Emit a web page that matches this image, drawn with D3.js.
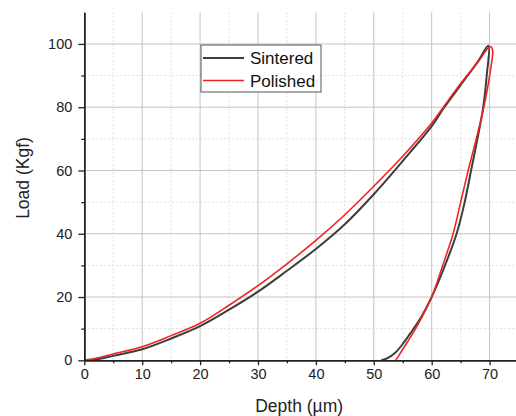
<!DOCTYPE html>
<html>
<head>
<meta charset="utf-8">
<script src="https://cdn.jsdelivr.net/npm/d3@7"></script>
<style>
body { margin:0; background:#fff; }
text { font-family: "Liberation Sans", Arial, sans-serif; }
</style>
</head>
<body>
<svg id="chart"></svg>
<script>
// loading / unloading curves
var sinteredLoadDepth = [0, 2.5, 5, 10, 15, 20, 25, 30, 35, 40, 45, 50, 55, 60, 62, 65, 68, 69.8]
var sinteredLoadForce = [0, 0.4, 1.4, 3.5, 6.9, 10.8, 16, 21.7, 28.3, 35.2, 43, 52.5, 63, 74, 79.5, 87, 94.5, 99.4]
var sinteredUnloadDepth = [69.5, 68.9, 67.9, 66.8, 65.7, 64.3, 62.3, 60.0, 58.3, 56.3, 55.1, 53.7, 52.2, 51.3]
var sinteredUnloadForce = [90, 80, 70, 60, 50, 40, 30, 20, 14, 8.5, 5.4, 2.4, 0.5, 0]

var polishedLoadDepth = [0, 2.5, 5, 10, 15, 20, 25, 30, 35, 40, 45, 50, 55, 60, 62, 65, 68, 70.1, 70.5]
var polishedLoadForce = [0, 0.8, 2, 4.3, 7.8, 11.7, 17.4, 23.6, 30.5, 37.9, 46, 55, 64.5, 75, 80, 87.5, 94.3, 99.2, 98.3]
var polishedUnloadDepth = [70.0, 69.0, 67.7, 66.3, 65.0, 63.7, 61.9, 60.0, 58.4, 56.4, 55.0, 53.8]
var polishedUnloadForce = [90, 80, 70, 60, 50, 40, 30, 20, 14, 7.5, 3.5, 0]

var seriesNames = ["Sintered", "Polished"]
var xTicks = [0, 10, 20, 30, 40, 50, 60, 70]
var yTicks = [0, 20, 40, 60, 80, 100]

var zip = function(xs, ys)
{
    return xs.map(function(x, i) { return {x:x, y:ys[i]} })
}

var series = [
    {name:seriesNames[0], color:"#3d3d3d", width:2,
     points:zip(sinteredLoadDepth.concat(sinteredUnloadDepth), sinteredLoadForce.concat(sinteredUnloadForce))},
    {name:seriesNames[1], color:"#f22222", width:1.6,
     points:zip(polishedLoadDepth.concat(polishedUnloadDepth), polishedLoadForce.concat(polishedUnloadForce))}
]

var screen = {width:516, height:416}
var margins = {top:12.3, left:84.3, right:0, bottom:55.7}

var svg = d3.select("#chart")
    .attr("width", screen.width)
    .attr("height", screen.height)

var xScale = d3.scaleLinear()
    .domain([0, 74.56])
    .range([margins.left, screen.width - margins.right])

var yScale = d3.scaleLinear()
    .domain([0, 110])
    .range([screen.height - margins.bottom, margins.top])

var xMinor = d3.range(5, 75, 10)
var yMinor = d3.range(10, 110, 20)

// grid
var grid = svg.append("g")
grid.selectAll(".vminor").data(xMinor).enter().append("line")
    .attr("x1", function(d) { return xScale(d) }).attr("x2", function(d) { return xScale(d) })
    .attr("y1", yScale(110)).attr("y2", yScale(0))
    .attr("stroke", "#dcdcdc").attr("stroke-dasharray", "2,2")
grid.selectAll(".hminor").data(yMinor).enter().append("line")
    .attr("y1", function(d) { return yScale(d) }).attr("y2", function(d) { return yScale(d) })
    .attr("x1", xScale(0)).attr("x2", screen.width)
    .attr("stroke", "#dcdcdc").attr("stroke-dasharray", "2,2")
grid.selectAll(".vmajor").data(xTicks.slice(1)).enter().append("line")
    .attr("x1", function(d) { return xScale(d) }).attr("x2", function(d) { return xScale(d) })
    .attr("y1", yScale(110)).attr("y2", yScale(0))
    .attr("stroke", "#c4c4c4")
grid.selectAll(".hmajor").data(yTicks.slice(1)).enter().append("line")
    .attr("y1", function(d) { return yScale(d) }).attr("y2", function(d) { return yScale(d) })
    .attr("x1", xScale(0)).attr("x2", screen.width)
    .attr("stroke", "#c4c4c4")

// curves
var line = d3.line()
    .x(function(p) { return xScale(p.x) })
    .y(function(p) { return yScale(p.y) })
    .curve(d3.curveCatmullRom.alpha(0.5))

svg.selectAll(".curve").data(series).enter().append("path")
    .attr("d", function(s) { return line(s.points) })
    .attr("fill", "none")
    .attr("stroke", function(s) { return s.color })
    .attr("stroke-width", function(s) { return s.width })

// axes
svg.append("g")
    .attr("transform", "translate(0," + yScale(0) + ")")
    .call(d3.axisBottom(xScale).tickValues(xTicks).tickSize(5).tickPadding(3).tickSizeOuter(0))
svg.append("g")
    .attr("transform", "translate(0," + yScale(0) + ")")
    .call(d3.axisBottom(xScale).tickValues(xMinor).tickSize(3).tickFormat("").tickSizeOuter(0))
svg.append("g")
    .attr("transform", "translate(" + xScale(0) + ",0)")
    .call(d3.axisLeft(yScale).tickValues(yTicks).tickSize(6).tickPadding(6).tickSizeOuter(0))
svg.append("g")
    .attr("transform", "translate(" + xScale(0) + ",0)")
    .call(d3.axisLeft(yScale).tickValues(yMinor).tickSize(3).tickFormat("").tickSizeOuter(0))

svg.selectAll(".domain").attr("stroke", "#222").attr("stroke-width", 1.5)
svg.selectAll(".tick line").attr("stroke", "#222").attr("stroke-width", 1.3)
svg.selectAll(".tick text")
    .attr("font-family", "Liberation Sans, Arial, sans-serif")
    .attr("font-size", 14.5).attr("fill", "#222")

svg.append("text")
    .attr("x", (xScale(0) + screen.width) / 2 - 1).attr("y", 412)
    .attr("text-anchor", "middle").attr("font-size", 17.5).attr("fill", "#222")
    .text("Depth (\u00b5m)")
svg.append("text")
    .attr("transform", "translate(29,178) rotate(-90)")
    .attr("text-anchor", "middle").attr("font-size", 17.5).attr("fill", "#222")
    .text("Load (Kgf)")

// legend
var legend = svg.append("g").attr("transform", "translate(201,45)")
legend.append("rect")
    .attr("width", 120).attr("height", 47)
    .attr("fill", "#fff").attr("stroke", "#555").attr("stroke-width", 1)
var rows = legend.selectAll(".row").data(series).enter().append("g")
    .attr("transform", function(s, i) { return "translate(0," + (13 + i * 22.5) + ")" })
rows.append("line")
    .attr("x1", 2).attr("x2", 43)
    .attr("stroke", function(s) { return s.color })
    .attr("stroke-width", function(s) { return s.width })
rows.append("text")
    .attr("x", 49).attr("y", 6)
    .attr("font-size", 17).attr("fill", "#111")
    .text(function(s) { return s.name })
</script>
</body>
</html>
